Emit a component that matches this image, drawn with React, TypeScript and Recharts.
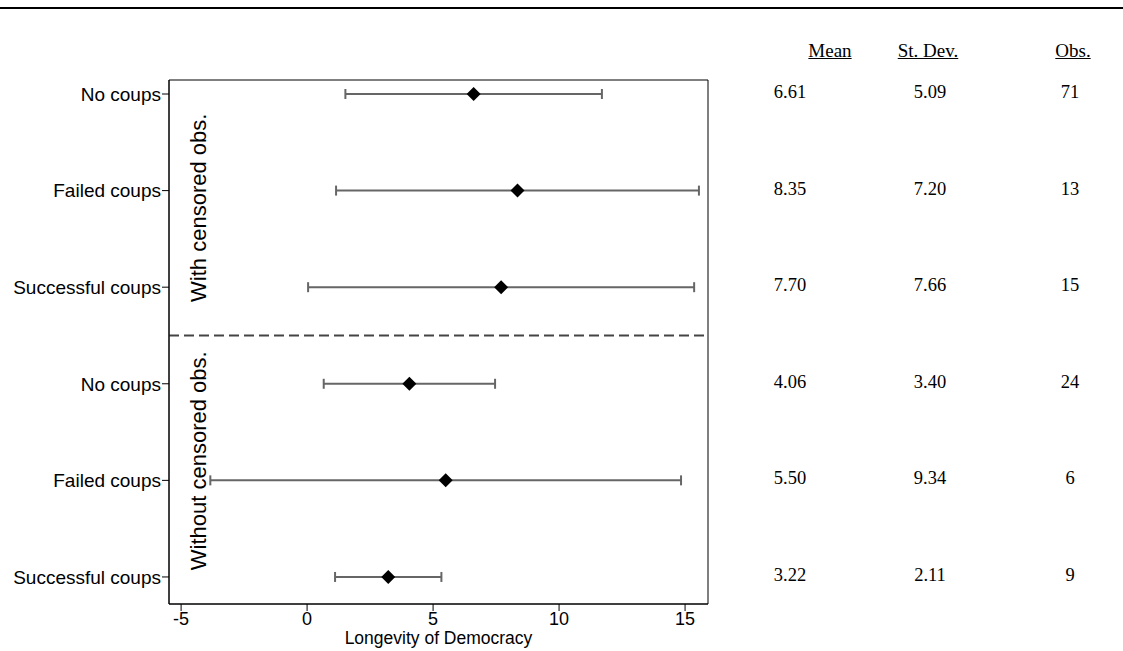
import { ErrorBar, ReferenceArea, ReferenceLine, Scatter, ScatterChart, XAxis, YAxis } from "recharts";

const rowLabels = ["No coups", "Failed coups", "Successful coups", "No coups", "Failed coups", "Successful coups"];
const means = [6.61, 8.35, 7.7, 4.06, 5.5, 3.22];
const stdDevs = [5.09, 7.2, 7.66, 3.4, 9.34, 2.11];
const obsCounts = [71, 13, 15, 24, 6, 9];
const groupLabels = ["With censored obs.", "Without censored obs."];
const xTicks = [-5, 0, 5, 10, 15];
const tableHeaders = ["Mean", "St. Dev.", "Obs."];

const rows = means.map((m, i) => ({
  row: i + 1,
  mean: m,
  sd: stdDevs[i],
  obs: obsCounts[i],
}));

const X_DOMAIN: [number, number] = [-5.48, 15.91];
const Y_DOMAIN: [number, number] = [0.855, 6.28];

const sans = "'Liberation Sans', Arial, sans-serif";
const serif = "'Liberation Serif', 'Times New Roman', serif";
const tableCols = [790, 930, 1070];
const headerCols = [830, 928, 1073];

function Diamond(props: any) {
  const { cx, cy } = props;
  if (cx == null || cy == null) return null;
  const r = 7;
  return <polygon points={`${cx},${cy - r} ${cx + r},${cy} ${cx},${cy + r} ${cx - r},${cy}`} fill="#000" />;
}

// mean / sd / obs columns on the right, placed on each row via the y scale
function TableRow(props: any) {
  const { cy, payload } = props;
  if (cy == null || !payload) return null;
  const vals = [payload.mean.toFixed(2), payload.sd.toFixed(2), String(payload.obs)];
  return (
    <g>
      {vals.map((v, i) => (
        <text key={i} x={tableCols[i]} y={cy - 2} textAnchor="middle" dominantBaseline="central" fontFamily={serif} fontSize={18.5} fill="#000">
          {v}
        </text>
      ))}
    </g>
  );
}

function GroupLabel(props: any) {
  const { viewBox, value, shift } = props;
  if (!viewBox) return null;
  const x = viewBox.x + 30;
  const y = viewBox.y + viewBox.height / 2 + (shift ?? 0);
  return (
    <text x={x} y={y} transform={`rotate(-90 ${x} ${y})`} textAnchor="middle" dominantBaseline="central" fontFamily={sans} fontSize={22} fill="#000">
      {value}
    </text>
  );
}

export default function App() {
  return (
    <div style={{ position: "absolute", left: 0, top: 0, width: 1123, height: 651, background: "#fff" }}>
      <div style={{ position: "absolute", left: 0, top: 7, width: 1123, height: 2, background: "#000" }} />
      {tableHeaders.map((h, i) => (
        <div
          key={h}
          style={{
            position: "absolute",
            left: headerCols[i] - 60,
            width: 120,
            top: 40,
            textAlign: "center",
            fontFamily: serif,
            fontSize: 19,
            textDecoration: "underline",
            lineHeight: "22px",
          }}
        >
          {h}
        </div>
      ))}
      <ScatterChart width={1123} height={651} margin={{ top: 80, right: 415, bottom: 0, left: 0 }}>
        <XAxis
          type="number"
          dataKey="mean"
          domain={X_DOMAIN}
          ticks={xTicks}
          height={47}
          tickSize={7}
          tickMargin={1}
          stroke="#000"
          tick={{ fill: "#000", fontSize: 18, fontFamily: sans }}
          label={{ value: "Longevity of Democracy", position: "insideBottom", offset: 7, fill: "#000", fontSize: 17.5, fontFamily: sans }}
        />
        <YAxis
          type="number"
          dataKey="row"
          domain={Y_DOMAIN}
          reversed
          ticks={[1, 2, 3, 4, 5, 6]}
          tickFormatter={(v: number) => rowLabels[v - 1] ?? ""}
          width={169}
          tickSize={7}
          tickMargin={1}
          stroke="#000"
          tick={{ fill: "#000", fontSize: 19, fontFamily: sans }}
        />
        <ReferenceArea x1={X_DOMAIN[0]} x2={X_DOMAIN[1]} y1={Y_DOMAIN[0]} y2={Y_DOMAIN[1]} fill="none" stroke="#000" strokeWidth={1} />
        <ReferenceArea y1={Y_DOMAIN[0]} y2={3.5} fill="none" stroke="none" label={<GroupLabel value={groupLabels[0]} shift={0} />} />
        <ReferenceArea y1={3.5} y2={Y_DOMAIN[1]} fill="none" stroke="none" label={<GroupLabel value={groupLabels[1]} shift={-9} />} />
        <ReferenceLine y={3.5} stroke="#444" strokeWidth={2} strokeDasharray="10 5" />
        <Scatter data={rows} shape={<TableRow />} isAnimationActive={false} />
        <Scatter data={rows} shape={<Diamond />} isAnimationActive={false}>
          <ErrorBar dataKey="sd" direction="x" width={5} stroke="#666" strokeWidth={2} isAnimationActive={false} />
        </Scatter>
      </ScatterChart>
    </div>
  );
}
